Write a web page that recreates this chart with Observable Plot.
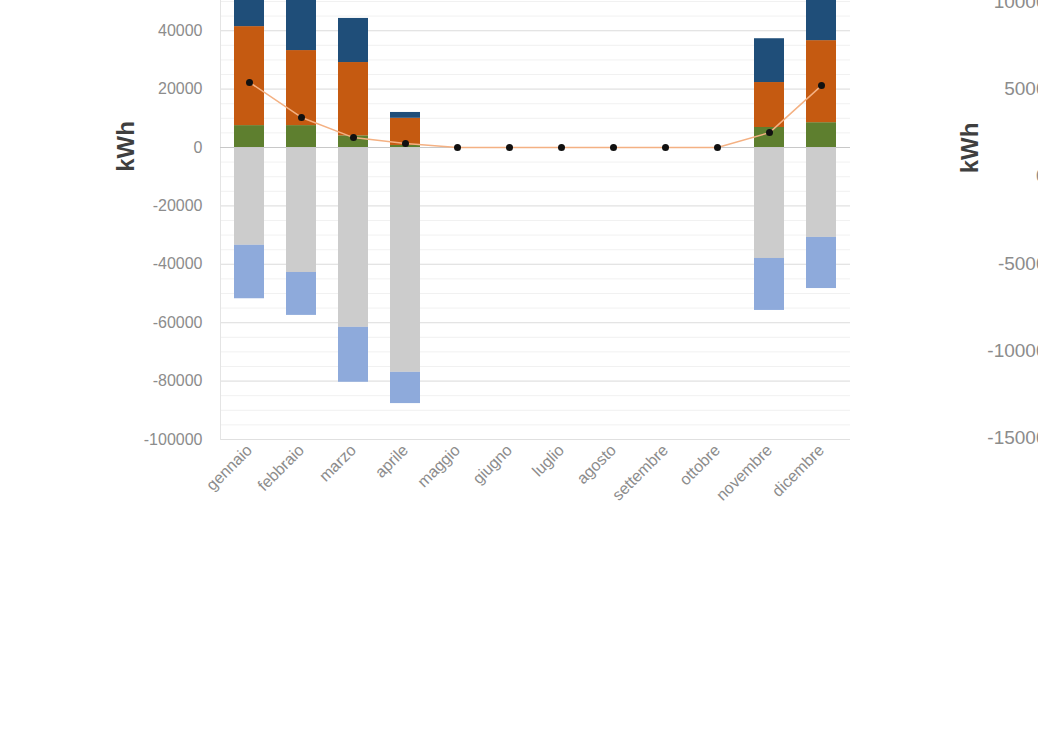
<!DOCTYPE html>
<html><head><meta charset="utf-8">
<script src="https://cdn.jsdelivr.net/npm/d3@7"></script>
<script src="https://cdn.jsdelivr.net/npm/@observablehq/plot@0.6"></script>
<style>
html,body{margin:0;padding:0;background:#fff;overflow:hidden;width:1038px;height:741px;}
#wrap{position:relative;width:1038px;height:741px;overflow:hidden;}
#left{position:absolute;left:0;top:0;width:1038px;}
#right{position:absolute;left:900px;top:0;width:400px;}
svg{max-width:none !important;}
</style></head>
<body><div id="wrap"><div id="left"></div><div id="right"></div></div>
<script>
// ---- data (kWh) ----
const months = ["gennaio","febbraio","marzo","aprile","maggio","giugno","luglio","agosto","settembre","ottobre","novembre","dicembre"];
const series = ["Autoconsumo","Immissione","Prelievo rete","Consumo base","Consumo pompa"];
const seriesColors = ["#5e7f2f","#c55a11","#1f4e79","#cccccc","#8eaadb"];
const autoconsumo  = [7500, 7500, 4000, 700, 0, 0, 0, 0, 0, 0, 6850, 8500];
const immissione   = [33900, 25700, 25100, 9300, 0, 0, 0, 0, 0, 0, 15400, 28100];
const prelievo     = [11000, 19000, 15100, 2000, 0, 0, 0, 0, 0, 0, 15000, 16000];
const consumoBase  = [-33500, -42800, -61600, -77000, 0, 0, 0, 0, 0, 0, -38000, -30800];
const consumoPompa = [-18300, -14700, -18800, -10700, 0, 0, 0, 0, 0, 0, -17800, -17500];
const bilancio     = [22300, 10300, 3400, 1400, 0, 0, 0, 0, 0, 0, 5100, 21200];
const yTicks = [40000, 20000, 0, -20000, -40000, -60000, -80000, -100000];
const yMinor = d3.range(-100000, 50001, 5000);
const rightTicks = [10000, 5000, 0, -5000, -10000, -15000];

const values = [autoconsumo, immissione, prelievo, consumoBase, consumoPompa];
const rows = [];
series.forEach((s, k) => months.forEach((m, i) => rows.push({month: m, serie: s, value: values[k][i]})));
const netRows = months.map((m, i) => ({month: m, value: bilancio[i]}));

const font = "'Liberation Sans', Arial, sans-serif";

const leftChart = Plot.plot({
  width: 1038, height: 741,
  marginLeft: 220, marginRight: 188, marginTop: 0, marginBottom: 302,
  style: {fontFamily: font, fontSize: "16px", color: "#8c8c8c", background: "transparent", overflow: "hidden"},
  x: {domain: months, paddingInner: 0.427, paddingOuter: 0.229, axis: null},
  y: {domain: [-100000, 50345], axis: null},
  color: {domain: series, range: seriesColors},
  marks: [
    Plot.ruleY(yMinor, {stroke: "#f1f1f1"}),
    Plot.ruleY(yTicks, {stroke: "#e0e0e0"}),
    Plot.frame({anchor: "left", stroke: "#e4e4e4"}),
    Plot.barY(rows, {x: "month", y: "value", fill: "serie", clip: true}),
    Plot.ruleY([0], {stroke: "#c8c8c8"}),
    Plot.line(netRows, {x: "month", y: "value", stroke: "#f4b183", strokeWidth: 1.5}),
    Plot.dot(netRows, {x: "month", y: "value", r: 3.5, fill: "#111", stroke: "none"}),
    Plot.axisY(yTicks, {tickSize: 0, tickPadding: 18, label: null, tickFormat: d => String(d)}),
    Plot.axisX({tickRotate: -45, tickSize: 0, tickPadding: 8, label: null}),
    Plot.text(["kWh"], {frameAnchor: "top-left", dx: -104, dy: 146, rotate: -90, textAnchor: "middle", fontWeight: "bold", fontSize: 24, fill: "#3f3f3f"})
  ]
});
document.getElementById("left").appendChild(leftChart);

const rightChart = Plot.plot({
  width: 400, height: 741,
  marginLeft: 150, marginRight: 0, marginTop: 1.5, marginBottom: 303.5,
  style: {fontFamily: font, fontSize: "19px", color: "#8c8c8c", background: "transparent", maxWidth: "none"},
  y: {domain: [-15000, 10000], axis: null},
  marks: [
    Plot.axisY(rightTicks, {tickSize: 0, tickPadding: 4, label: null, tickFormat: d => String(d)}),
    Plot.text(["kWh"], {frameAnchor: "top-left", dx: -90, dy: 146, rotate: -90, textAnchor: "middle", fontWeight: "bold", fontSize: 24, fill: "#3f3f3f"})
  ]
});
document.getElementById("right").appendChild(rightChart);
</script>
</body></html>
